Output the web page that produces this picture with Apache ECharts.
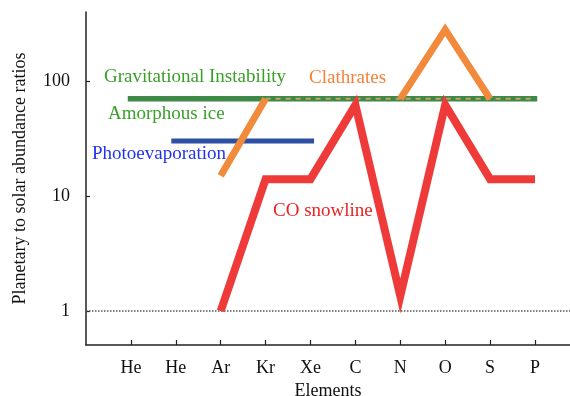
<!DOCTYPE html>
<html>
<head>
<meta charset="utf-8">
<script src="https://cdn.jsdelivr.net/npm/echarts@6/dist/echarts.min.js"></script>
<style>html,body{margin:0;padding:0;background:#fff}#c{width:570px;height:396px}</style>
</head>
<body>
<div id="c"></div>
<script>
// Category labels (positions 1..10 on the x axis)
var categories = ['He', 'He', 'Ar', 'Kr', 'Xe', 'C', 'N', 'O', 'S', 'P'];
// CO snowline (red)
var coSnowline = [null, null, 1, 14, 14, 62, 1.35, 62, 14, 14];
// Clathrates (orange, solid parts)
var clathrates = [null, null, 15, 70, null, null, 70, 280, 70, null];
// Clathrates (orange, dashed parts)
var clathratesDashed = [null, null, null, 70, 70, 70, 70, 70, 70, 70];
// Gravitational instability / amorphous ice (green horizontal band): [x, y]
var gravInstability = [[0.93, 70], [10.05, 70]];
// Photoevaporation (blue horizontal band): [x, y]
var photoevaporation = [[1.9, 30], [5.08, 30]];
var yTicks = [1, 10, 100];
var xTicks = [1, 2, 3, 4, 5, 6, 7, 8, 9, 10];

function toPairs(arr) {
  return arr.map(function (v, i) { return [i + 1, v]; });
}

var font = '"Liberation Serif", "Times New Roman", serif';
var chart = echarts.init(document.getElementById('c'));
chart.setOption({
  animation: false,
  grid: { left: 86, right: 0, top: 12, bottom: 51, containLabel: false, outerBoundsMode: 'none' },
  xAxis: {
    type: 'value', min: 0, max: 10.78, interval: 1,
    name: 'Elements', nameLocation: 'middle', nameGap: 35,
    nameTextStyle: { fontFamily: font, fontSize: 18, color: '#111' },
    axisLine: { lineStyle: { color: '#222', width: 1.5 } },
    axisTick: { inside: true, length: 5, customValues: xTicks, lineStyle: { color: '#222', width: 1.2 } },
    splitLine: { show: false },
    axisLabel: {
      margin: 14, fontFamily: font, fontSize: 18, color: '#111',
      customValues: xTicks,
      formatter: function (v) {
        var i = Math.round(v);
        return (i >= 1 && i <= categories.length) ? categories[i - 1] : '';
      }
    }
  },
  yAxis: {
    type: 'log', logBase: 10, min: 0.506, max: 398,
    name: 'Planetary to solar abundance ratios', nameLocation: 'middle', nameGap: 57,
    nameTextStyle: { fontFamily: font, fontSize: 18, color: '#111' },
    axisLine: { show: true, lineStyle: { color: '#222', width: 1.5 } },
    axisTick: { show: true, inside: true, length: 4, customValues: yTicks, lineStyle: { color: '#222', width: 1.2 } },
    splitLine: { show: false },
    axisLabel: {
      margin: 16, fontFamily: font, fontSize: 18, color: '#111',
      customValues: yTicks,
      formatter: function (v) { return String(Math.round(v)); }
    }
  },
  series: [
    {
      name: 'Gravitational Instability', type: 'line', data: gravInstability,
      symbol: 'none', z: 2,
      lineStyle: { color: '#3e8848', width: 5.5, cap: 'butt' }
    },
    {
      name: 'Clathrates dashed', type: 'line', data: toPairs(clathratesDashed),
      symbol: 'none', z: 3, connectNulls: false,
      lineStyle: { color: '#c9a060', width: 2, type: [5, 5] }
    },
    {
      name: 'Photoevaporation', type: 'line', data: photoevaporation,
      symbol: 'none', z: 4,
      lineStyle: { color: '#2d4fa2', width: 5, cap: 'butt' }
    },
    {
      name: 'Clathrates', type: 'line', data: toPairs(clathrates),
      symbol: 'none', z: 5, connectNulls: false,
      lineStyle: { color: '#f28a3c', width: 7, cap: 'butt', join: 'miter' }
    },
    {
      name: 'CO snowline', type: 'line', data: toPairs(coSnowline),
      symbol: 'none', z: 6, connectNulls: false,
      lineStyle: { color: '#ee3a38', width: 8, cap: 'butt', join: 'miter' },
      markLine: {
        silent: true, symbol: 'none', label: { show: false },
        lineStyle: { color: '#555', type: 'dotted', width: 1.5 },
        data: [{ yAxis: 1 }]
      }
    }
  ],
  graphic: [
    { type: 'text', left: 104, top: 68, style: { text: 'Gravitational Instability', fill: '#3aa02a', font: '19px ' + font } },
    { type: 'text', left: 108, top: 105, style: { text: 'Amorphous ice', fill: '#3aa02a', font: '19px ' + font } },
    { type: 'text', left: 92, top: 145, style: { text: 'Photoevaporation', fill: '#2233ee', font: '19px ' + font } },
    { type: 'text', left: 309, top: 69, style: { text: 'Clathrates', fill: '#f5803a', font: '19px ' + font } },
    { type: 'text', left: 273, top: 202, style: { text: 'CO snowline', fill: '#ee2222', font: '19px ' + font } }
  ]
});
</script>
</body>
</html>
